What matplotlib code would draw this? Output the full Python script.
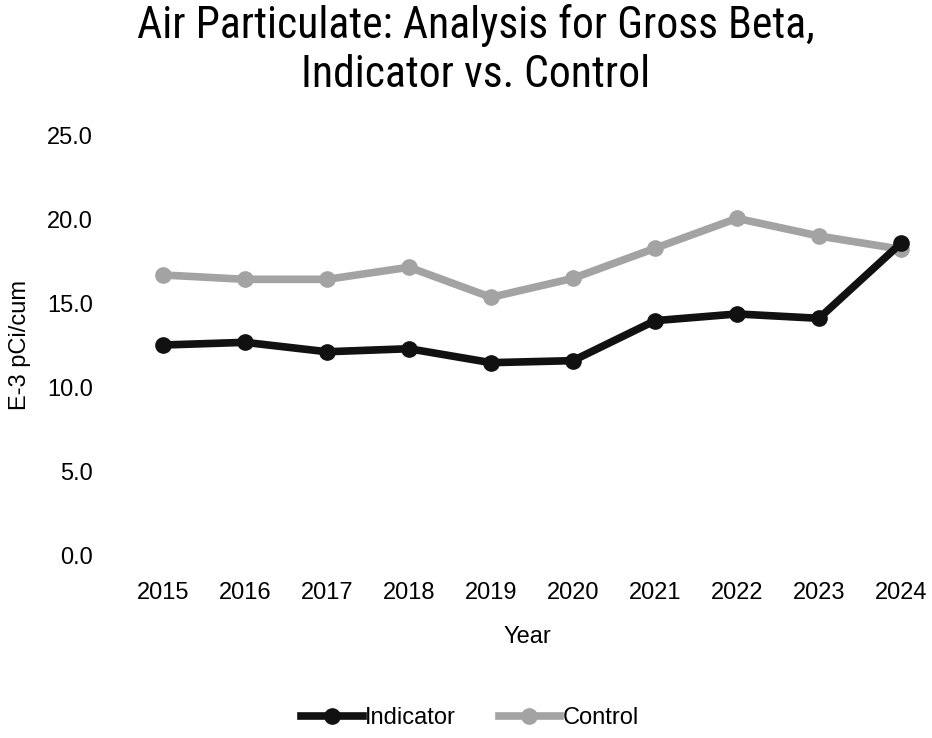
import numpy as np
import matplotlib.pyplot as plt
from matplotlib.lines import Line2D

years = ['2015', '2016', '2017', '2018', '2019', '2020', '2021', '2022', '2023', '2024']
indicator = [12.54, 12.70, 12.14, 12.32, 11.49, 11.61, 13.99, 14.39, 14.13, 18.6]
control = [16.71, 16.45, 16.45, 17.17, 15.38, 16.51, 18.30, 20.08, 19.03, 18.24]
yticks = [0, 5, 10, 15, 20, 25]

plt.rcParams['font.family'] = ['Roboto Condensed', 'Roboto', 'DejaVu Sans']
tick_font = ['Liberation Sans', 'DejaVu Sans']

fig = plt.figure(figsize=(9.32, 7.38), dpi=100)
ax = fig.add_axes([122/932, (738-555.7)/738, 820/932, 420/738])

x = np.arange(len(years))
grey = '#a3a3a3'
ax.plot(x, control, color=grey, lw=5.5, marker='o', ms=11, label='Control', zorder=2)
ax.plot(x, indicator, color='#111111', lw=5.5, marker='o', ms=11, label='Indicator', zorder=3)

ax.set_xlim(-0.5, 9.5)
ax.set_ylim(0, 25)
ax.set_xticks(x)
ax.set_xticklabels(years, fontsize=17, family=tick_font)
ax.set_yticks(yticks)
ax.set_yticklabels(['%.1f' % v for v in yticks], fontsize=17, family=tick_font)
ax.tick_params(length=0)
ax.tick_params(axis='y', pad=21)
ax.tick_params(axis='x', pad=19)
for s in ax.spines.values():
    s.set_visible(False)

fig.text(476/932, 1 - 50/738, 'Air Particulate: Analysis for Gross Beta,\nIndicator vs. Control',
         ha='center', va='center', fontsize=31.5, linespacing=1.2)
fig.text(20/932, 1 - 345/738, 'E-3 pCi/cum', rotation=90, ha='center', va='center',
         fontsize=17, family=tick_font)
fig.text(527/932, 1 - 637/738, 'Year', ha='center', va='center', fontsize=17, family=tick_font)

handles = [Line2D([], [], color='#111111', lw=5.5, marker='o', ms=11),
           Line2D([], [], color=grey, lw=5.5, marker='o', ms=11)]
fig.legend(handles, ['Indicator', 'Control'], loc='center', bbox_to_anchor=(470/932, 1 - 718/738),
           ncol=2, frameon=False, handlelength=2.6, handletextpad=0.1,
           columnspacing=1.8, prop={'family': tick_font, 'size': 17})

fig.savefig('out.png', dpi=100)
